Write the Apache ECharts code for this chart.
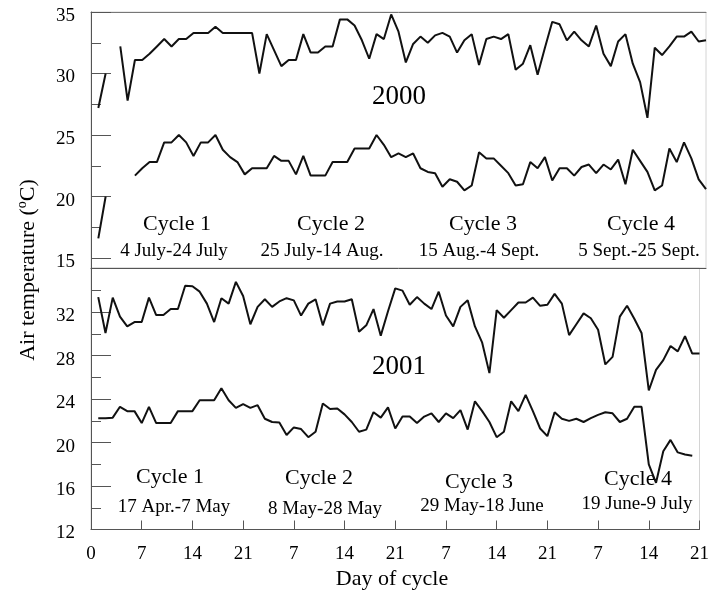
<!DOCTYPE html>
<html>
<head>
<meta charset="utf-8">
<script src="https://cdn.jsdelivr.net/npm/echarts@6/dist/echarts.min.js"></script>
<style>html,body{margin:0;padding:0;background:#fff}#c{width:712px;height:592px}</style>
</head>
<body>
<div id="c"></div>
<script>
// Day of cycle (4 cycles x 21 days = 84 consecutive days)
const dayIndex = [1,2,3,4,5,6,7,8,9,10,11,12,13,14,15,16,17,18,19,20,21,22,23,24,25,26,27,28,29,30,31,32,33,34,35,36,37,38,39,40,41,42,43,44,45,46,47,48,49,50,51,52,53,54,55,56,57,58,59,60,61,62,63,64,65,66,67,68,69,70,71,72,73,74,75,76,77,78,79,80,81,82,83,84];
const xTickLabels = ['0','7','14','21','7','14','21','7','14','21','7','14','21'];

// 2000 – daily maximum
const max2000 = [27.2,30.0,null,32.2,27.8,31.1,31.1,31.6,32.2,32.8,32.2,32.8,32.8,33.3,33.3,33.3,33.8,33.3,33.3,33.3,33.3,
  33.3,30.0,33.2,31.9,30.6,31.1,31.1,33.2,31.7,31.7,32.2,32.2,34.4,34.4,33.9,32.7,31.2,33.2,32.8,34.8,33.4,
  30.9,32.4,33.0,32.5,33.1,33.3,33.0,31.7,32.7,33.2,30.7,32.8,33.0,32.8,33.2,30.3,30.8,32.3,29.9,32.1,34.2,
  34.0,32.7,33.4,32.7,32.2,33.9,31.6,30.6,32.6,33.2,30.8,29.3,26.4,32.1,31.5,32.2,33.0,33.0,33.4,32.6,32.7];
// 2000 – daily minimum
const min2000 = [16.6,20.0,null,null,null,21.7,22.3,22.8,22.8,24.4,24.4,25.0,24.4,23.3,24.4,24.4,25.0,23.8,23.2,22.8,21.8,
  22.3,22.3,22.3,23.3,22.9,22.9,21.8,23.3,21.7,21.7,21.7,22.8,22.8,22.8,23.9,23.9,23.9,25.0,24.2,23.2,23.5,
  23.2,23.5,22.3,22.0,21.9,20.8,21.4,21.2,20.5,20.9,23.6,23.1,23.1,22.5,21.9,20.9,21.0,22.8,22.3,23.2,21.3,
  22.3,22.3,21.7,22.4,22.6,21.9,22.6,22.2,23.0,21.0,23.8,22.9,22.0,20.5,20.9,23.9,22.8,24.4,23.1,21.4,20.6];
// 2001 – daily maximum
const max2001 = [33.4,30.1,33.35,31.6,30.7,31.1,31.1,33.35,31.75,31.75,32.3,32.3,34.45,34.4,33.9,32.8,31.1,33.3,32.8,34.8,33.5,
  30.9,32.5,33.2,32.5,33.0,33.3,33.1,31.7,32.8,33.2,30.8,32.8,33.0,33.0,33.2,30.2,30.8,32.3,29.85,32.1,34.2,
  34.0,32.7,33.4,32.8,32.3,33.9,31.7,30.7,32.5,33.1,30.7,29.2,26.4,32.2,31.5,32.2,32.9,32.9,33.35,32.6,32.7,
  33.7,32.8,29.9,30.9,31.9,31.45,30.4,27.2,27.9,31.6,32.6,31.4,30.1,24.8,26.7,27.6,28.9,28.4,29.8,28.2,28.2];
// 2001 – daily minimum
const min2001 = [22.25,22.25,22.3,23.3,22.9,22.9,21.8,23.3,21.8,21.8,21.8,22.9,22.9,22.9,23.9,23.9,23.9,25.0,23.9,23.2,23.55,
  23.2,23.45,22.2,21.9,21.85,20.7,21.4,21.25,20.5,21.0,23.6,23.1,23.15,22.6,21.9,21.0,21.2,22.8,22.3,23.25,21.3,
  22.4,22.4,21.8,22.4,22.7,21.9,22.7,22.25,23.0,21.2,23.8,22.9,21.9,20.5,21.0,23.8,22.9,24.4,22.9,21.3,20.6,
  22.8,22.2,22.0,22.2,21.9,22.25,22.55,22.8,22.7,21.9,22.2,23.3,23.3,18.0,16.3,19.2,20.25,19.1,18.9,18.8,null];

const topMajor = [15,20,25,30,35];
const topMinor = [17.5,22.5,27.5,32.5];
const botMajor = [12,16,20,24,28,32];
const botMinor = [14,18,22,26,30,34];

const cycleTop = ['Cycle 1','Cycle 2','Cycle 3','Cycle 4'];
const datesTop = ['4 July-24 July','25 July-14 Aug.','15 Aug.-4 Sept.','5 Sept.-25 Sept.'];
const datesBot = ['17 Apr.-7 May','8 May-28 May','29 May-18 June','19 June-9 July'];

const FONT = '"Liberation Serif","Times New Roman",serif';
const INK = '#000';
const AXC = '#555';

const pairs = arr => dayIndex.map((d, i) => [d, arr[i]]);

function xAx(grid, showLabels) {
  return {
    type: 'value', gridIndex: grid, min: 0, max: 84, interval: 7,
    axisLine: { show: true, onZero: false, lineStyle: { color: AXC, width: 1 } },
    axisTick: { show: showLabels, inside: true, length: 9, lineStyle: { color: AXC } },
    axisLabel: {
      show: showLabels, margin: 15, color: INK, fontFamily: FONT, fontSize: 19,
      formatter: v => xTickLabels[Math.round(v / 7)]
    },
    splitLine: { show: false }
  };
}
function yAx(grid, min, max, major, minor, isMajor) {
  const vals = isMajor ? major : minor;
  return {
    type: 'value', gridIndex: grid, min: min, max: max, position: 'left',
    axisLine: { show: isMajor, onZero: false, lineStyle: { color: AXC, width: 1 } },
    axisTick: { show: true, inside: true, length: isMajor ? 20 : 10, customValues: vals, lineStyle: { color: AXC } },
    axisLabel: { show: isMajor, customValues: vals, margin: 16, color: INK, fontFamily: FONT, fontSize: 19,
      verticalAlign: 'top', lineHeight: 8 },
    splitLine: { show: false }
  };
}

const graphics = [];
function txt(x, y, s, size) {
  graphics.push({ type: 'text', x: x, y: y, z: 0,
    style: { text: s, fill: INK, font: size + 'px ' + FONT, align: 'center', verticalAlign: 'middle' } });
}
const cyc = [177, 331, 483, 641];
const dtTop = [174, 322, 479, 639];
cycleTop.forEach((c, i) => txt(cyc[i], 224, c, 22));
datesTop.forEach((c, i) => txt(dtTop[i], 251, c, 19));
const cycB = [170, 319, 479, 638];
const cycBy = [477, 478, 482, 479];
const dtB = [174, 325, 482, 637];
const dtBy = [507, 509, 506, 504];
cycleTop.forEach((c, i) => txt(cycB[i], cycBy[i], c, 22));
datesBot.forEach((c, i) => txt(dtB[i], dtBy[i], c, 19));
txt(399, 97, '2000', 27);
txt(399, 367, '2001', 27);
txt(392, 579, 'Day of cycle', 22);
graphics.push({
  type: 'text', x: 28, y: 270, rotation: Math.PI / 2,
  style: {
    text: '{n|Air temperature (}{s|o}{n|C)}',
    align: 'center', verticalAlign: 'middle', fill: INK,
    rich: {
      n: { fontFamily: FONT, fontSize: 22, fill: INK, lineHeight: 26 },
      s: { fontFamily: FONT, fontSize: 14, fill: INK, verticalAlign: 'top' }
    }
  }
});

const lineS = (data, xi, yi) => ({
  type: 'line', xAxisIndex: xi, yAxisIndex: yi, data: data, showSymbol: false, symbol: 'none',
  connectNulls: false, lineStyle: { color: '#111', width: 2 }, z: 3, animation: false
});

const chart = echarts.init(document.getElementById('c'), null, { renderer: 'canvas' });
chart.setOption({
  backgroundColor: '#fff',
  animation: false,
  grid: [
    { left: 91, right: 6, top: 12, height: 256, show: true, borderColor: '#d4d4d4', borderWidth: 1 },
    { left: 91, right: 6, top: 268, bottom: 62.5, show: true, borderColor: '#d4d4d4', borderWidth: 1 }
  ],
  xAxis: [
    xAx(0, false),
    xAx(1, true),
    { type: 'value', gridIndex: 0, min: 0, max: 84, position: 'top',
      axisLine: { show: true, onZero: false, lineStyle: { color: '#777' } },
      axisTick: { show: false }, axisLabel: { show: false }, splitLine: { show: false } }
  ],
  yAxis: [
    yAx(0, 14.19, 35, topMajor, topMinor, true),
    yAx(0, 14.19, 35, topMajor, topMinor, false),
    yAx(1, 12, 36.08, botMajor, botMinor, true),
    yAx(1, 12, 36.08, botMajor, botMinor, false)
  ],
  series: [
    lineS(pairs(max2000), 0, 0),
    lineS(pairs(min2000), 0, 0),
    lineS(pairs(max2001), 1, 2),
    lineS(pairs(min2001), 1, 2)
  ],
  graphic: graphics
});
</script>
</body>
</html>
